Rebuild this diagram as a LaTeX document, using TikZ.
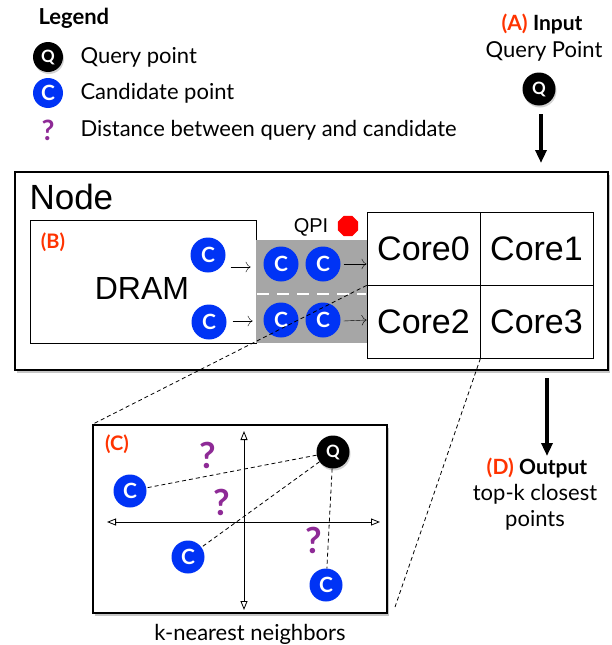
\documentclass[tikz,border=0pt]{standalone}
\usepackage{fontspec}
\setmainfont{Lato}
\newfontfamily\helv{Liberation Sans}
\usepackage{xcolor}
\usetikzlibrary{arrows.meta,shapes.geometric,shadows}
\definecolor{candblue}{HTML}{0033F5}
\definecolor{qmark}{HTML}{8E2A96}
\definecolor{labred}{HTML}{FF3300}
\definecolor{qpigray}{HTML}{A6A6A6}
\begin{document}
\begin{tikzpicture}[x=1pt,y=-1pt,
		cand/.style={circle,fill=candblue,text=white,minimum size=#1,inner sep=0pt,font=\fontsize{21}{21}\selectfont\bfseries},
		cand/.default=35,
		query/.style={circle,fill=black,text=white,minimum size=#1,inner sep=0pt,font=\fontsize{17}{17}\selectfont\bfseries,drop shadow={opacity=.35,shadow xshift=1pt,shadow yshift=-2pt}},
		query/.default=33,
		ques/.style={text=qmark,font=\fontsize{36}{36}\selectfont\bfseries},
		core/.style={draw,line width=0.8pt,minimum width=113,minimum height=73,inner sep=0pt,font=\helv\fontsize{34}{34}\selectfont},
		tag/.style={text=labred,font=\fontsize{20}{20}\selectfont\bfseries},
		txt/.style={font=\fontsize{22}{26}\selectfont},
		bigarrow/.style={line width=4pt,-{Triangle[length=13pt,width=11pt]}},
		smallarrow/.style={-{To[length=5pt]}},
		axis/.style={line width=0.8pt,{Triangle[open,length=9pt,width=7pt]}-{Triangle[open,length=9pt,width=7pt]}},
		zoomline/.style={line width=0.8pt,dash pattern=on 4pt off 3pt},
		shadowbox/.style={draw,line width=1.3pt,fill=white,drop shadow={opacity=.45,shadow xshift=2pt,shadow yshift=-3pt}}
	]
	\useasboundingbox (0,0) rectangle (612,645);
	% legend
	\node[anchor=west,font=\fontsize{22}{22}\selectfont\bfseries] (legend) at (35,18) {Legend};
	\node[query=30] (legq) at (48,57) {Q};
	\node[cand=30] (legc) at (48,93) {C};
	\node[ques,font=\fontsize{28}{28}\selectfont\bfseries] (legd) at (48,130) {?};
	\node[txt,anchor=west] (legqt) at (77,57) {Query point};
	\node[txt,anchor=west] (legct) at (77,93) {Candidate point};
	\node[txt,anchor=west] (legdt) at (77,130) {Distance between query and candidate};
	% (A) input
	\node[font=\fontsize{21}{21}\selectfont] (inputlbl) at (542,24) {\textcolor{labred}{\textbf{(A)}} \textbf{Input}};
	\node[txt] (inputtxt) at (544,51) {Query Point};
	\node[query] (inq) at (539,89) {Q};
	% node box
	\node[shadowbox,minimum width=593,minimum height=198,inner sep=0pt] (nodebox) at (311.5,271) {};
	\coordinate (ina) at (541,114);
	\coordinate (inb) at (541,163);
	\draw[bigarrow] (ina) -- (inb);
	\node[anchor=west,font=\helv\fontsize{35}{35}\selectfont] (nodelbl) at (26,197) {Node};
	\node[draw,line width=0.8pt,minimum width=226,minimum height=123,inner sep=0pt] (dram) at (143,281.5) {};
	\node[font=\helv\fontsize{32}{32}\selectfont] (dramlbl) at (142,288) {DRAM};
	\node[tag] (taglb) at (53,242) {(B)};
	\fill[qpigray] (256,240) rectangle (367,343);
	\draw[white,line width=2.5pt,dash pattern=on 12pt off 8pt] (257,294) -- (366,294);
	\node[font=\helv\fontsize{20}{20}\selectfont] (qpi) at (311,227) {QPI};
	\node[regular polygon,regular polygon sides=8,fill=red,minimum size=22,inner sep=0pt] (qpistop) at (348,226) {};
	\node[cand] (d1) at (208,255) {C};
	\node[cand] (d2) at (209,322) {C};
	\node[cand] (q1) at (281,264) {C};
	\node[cand] (q2) at (323,264) {C};
	\node[cand] (q3) at (281,320) {C};
	\node[cand] (q4) at (323,320) {C};
	\node[core] (core0) at (423.5,248.5) {Core0};
	\node[core] (core1) at (536.5,248.5) {Core1};
	\node[core] (core2) at (423.5,321.5) {Core2};
	\node[core] (core3) at (536.5,321.5) {Core3};
	\draw[smallarrow] (d1.east) ++(5,12) -- ++(20,0);
	\draw[smallarrow] (d2.east) ++(6,-1) -- ++(20,0);
	\draw[smallarrow] (q2.east) ++(3,0) -- (core0.west |- q2);
	\draw[smallarrow] (q4.east) ++(3,1) -- (core2.west |- q4.east);
	% (D) output
	\coordinate (outa) at (547,378);
	\coordinate (outb) at (547,456);
	\draw[bigarrow] (outa) -- (outb);
	\node[font=\fontsize{21}{21}\selectfont] (outlbl) at (537,468) {\textcolor{labred}{\textbf{(D)}} \textbf{Output}};
	\node[txt,align=center] (outtxt) at (535,507) {top-k closest\\points};
	% (C) knn box
	\node[shadowbox,minimum width=294,minimum height=188,inner sep=0pt] (knnbox) at (240,519) {};
	\coordinate (zoomend) at (395,607);
	\draw[zoomline] (core0.south west) -- (knnbox.north west);
	\draw[zoomline] (core2.south east) -- (zoomend);
	\node[tag] (taglc) at (117,444) {(C)};
	\draw[axis] (107,522) -- (380,522);
	\draw[axis] (244,431) -- (244,610);
	\node[query] (kq) at (333,452) {Q};
	\node[cand=33] (k1) at (130,491) {C};
	\node[cand=33] (k2) at (188,557) {C};
	\node[cand=33] (k3) at (326,585) {C};
	\draw[zoomline] (kq) -- (k1);
	\draw[zoomline] (kq) -- (k2);
	\draw[zoomline] (kq) -- (k3);
	\node[ques] (d1q) at (208,455) {?};
	\node[ques] (d2q) at (222,502) {?};
	\node[ques] (d3q) at (314,540) {?};
	\node[txt] (knnlbl) at (250,634) {k-nearest neighbors};
\end{tikzpicture}
\end{document}
